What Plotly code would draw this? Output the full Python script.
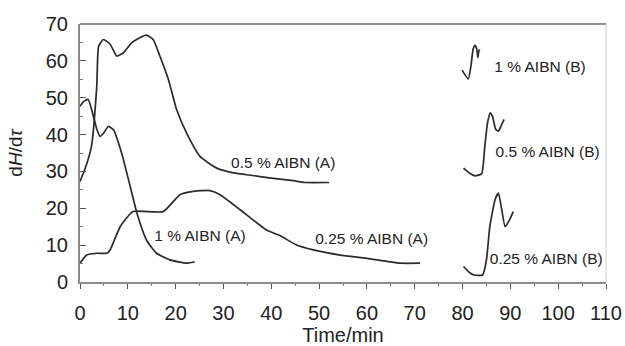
import plotly.graph_objects as go

# 0.5 % AIBN (A)
t_05a = [0, 1.0, 2.4, 3.5, 3.9, 4.9, 6.3, 7.7, 9.1, 10.8, 12.5, 13.9, 15.3, 16.7, 18.5, 20.2, 22.3, 25.1, 28.6, 32.1, 36, 40, 44.6, 47, 52.1]
y_05a = [27.3, 30.5, 36.8, 53, 64, 65.8, 64.5, 61.3, 62.2, 64.9, 66.3, 67, 65.8, 61.3, 54.9, 46.8, 40.4, 34.1, 30.9, 29.6, 28.9, 28.2, 27.5, 27, 27]
# 1 % AIBN (A)
t_1a = [0, 0.8, 1.7, 2.8, 3.5, 4.2, 5.0, 5.9, 7.0, 8.7, 10.5, 11.9, 13.9, 16.0, 18.8, 22.3, 24]
y_1a = [47.7, 49, 49.5, 45, 41.5, 39.5, 40.5, 42.2, 41.3, 35, 25.9, 18.7, 11.4, 7.8, 6.0, 5.1, 5.5]
# 0.25 % AIBN (A)
t_025a = [0, 1.4, 3.5, 5.6, 6.3, 8.4, 11.1, 17.4, 20.9, 23.7, 27.2, 29.3, 33.5, 39.0, 41.8, 45.2, 48.8, 54.4, 60, 66.9, 71.1]
y_025a = [5.1, 7.3, 7.8, 7.8, 8.7, 15, 19.1, 19.1, 23.7, 24.6, 24.8, 23.7, 19.6, 14.1, 12.6, 10.1, 8.7, 7.3, 6.4, 5.1, 5.1]
# 1 % AIBN (B)
t_1b = [79.9, 81.2, 81.8, 82.2, 82.6, 83.0, 83.2, 83.4, 83.6]
y_1b = [57.5, 55.1, 59, 63.1, 64.2, 63.1, 60.9, 62.6, 63.1]
# 0.5 % AIBN (B)
t_05b = [80.2, 81.5, 82.6, 84.0, 84.6, 85.2, 85.8, 86.3, 86.9, 87.5, 88.0, 88.7]
y_05b = [30.9, 29.5, 28.8, 29.4, 36, 43, 45.9, 44.8, 41.5, 40.9, 42.2, 44.1]
# 0.25 % AIBN (B)
t_025b = [80.2, 81.5, 82.4, 84.2, 85.0, 85.7, 86.8, 87.5, 88.2, 88.9, 89.8, 90.6]
y_025b = [4.2, 2.5, 1.9, 1.9, 6, 15, 22.3, 24.1, 19.6, 15, 16.8, 19.1]

label_text = ["0.5 % AIBN (A)", "1 % AIBN (A)", "0.25 % AIBN (A)", "1 % AIBN (B)", "0.5 % AIBN (B)", "0.25 % AIBN (B)"]
label_x = [42.5, 25.1, 61.0, 96.2, 97.8, 97.5]
label_y = [32.0, 12.2, 11.4, 58.1, 35.0, 6.0]

series = [(t_05a, y_05a), (t_1a, y_1a), (t_025a, y_025a), (t_1b, y_1b), (t_05b, y_05b), (t_025b, y_025b)]

fig = go.Figure()
for tx, ty in series:
    fig.add_trace(go.Scatter(x=tx, y=ty, mode="lines",
                             line=dict(color="#2b2b2b", width=1.7, shape="spline", smoothing=0.5),
                             showlegend=False, hoverinfo="skip"))

fig.add_trace(go.Scatter(x=label_x, y=label_y, mode="text", text=label_text,
                         textfont=dict(family="Liberation Sans, Arial, sans-serif", size=15.5, color="#222222"),
                         showlegend=False, hoverinfo="skip"))

axis_font = dict(family="Liberation Sans, Arial, sans-serif", size=20, color="#222222")

fig.update_layout(
    width=625, height=346,
    margin=dict(l=80, r=19, t=24, b=64),
    paper_bgcolor="white", plot_bgcolor="white",
    xaxis=dict(range=[0, 110], tickvals=list(range(0, 111, 10)), showgrid=False, zeroline=False,
               automargin=False, ticklabeloverflow="allow",
               showline=True, linecolor="#8c8c8c", linewidth=2,
               ticks="outside", ticklen=5, tickwidth=1.2, tickcolor="#555555",
               minor=dict(dtick=5, ticks="outside", ticklen=2, tickcolor="#777777"),
               tickfont=axis_font, ticklabelstandoff=7,
               title=dict(text="Time/min", font=axis_font, standoff=6)),
    yaxis=dict(range=[0, 70], tickvals=list(range(0, 71, 10)), showgrid=False, zeroline=False,
               automargin=False,
               showline=True, linecolor="#8c8c8c", linewidth=2,
               ticks="inside", ticklen=6, tickwidth=1.2, tickcolor="#555555",
               minor=dict(dtick=5, ticks="inside", ticklen=3, tickcolor="#777777"),
               tickfont=axis_font, ticklabelstandoff=6,
               title=dict(text="d<i>H</i>/d<i>τ</i>", font=dict(family="Liberation Sans, Arial, sans-serif", size=19, color="#222222"), standoff=18)),
)

# frame: dark top line, light right line
fig.add_shape(type="line", xref="paper", yref="paper", x0=0, x1=1, y0=1, y1=1,
              line=dict(color="#222222", width=1.2))
fig.add_shape(type="line", xref="paper", yref="paper", x0=1, x1=1, y0=0, y1=1,
              line=dict(color="#cccccc", width=1))

fig.write_html("out.html", config={"displayModeBar": False},
               post_script="document.body.style.margin='0';document.body.style.overflow='hidden';")
